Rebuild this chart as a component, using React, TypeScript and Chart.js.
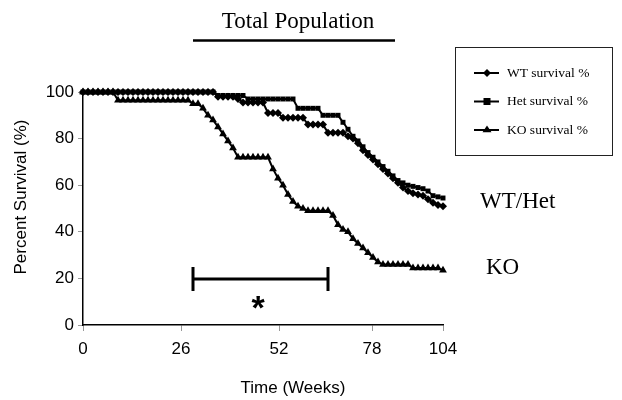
import React, { useEffect, useRef } from "react";
import { Chart, registerables } from "chart.js";
Chart.register(...registerables);

const chartTitle = "Total Population";
const xAxisTitle = "Time (Weeks)";
const yAxisTitle = "Percent Survival (%)";
const xTickLabels = ["0", "26", "52", "78", "104"];
const xTickPositions = [0, 98, 196, 289, 360];
const yTickStep = 20;

const seriesNames = ["WT survival %", "Het survival %", "KO survival %"];
const pointStyles = ["rectRot", "rect", "triangle"];
const pointSizes = [4, 3.5, 4.5];

// positions along the (category-like) time axis
const positions = [
  0, 5, 10, 15, 20, 25, 30, 35, 40, 45, 50, 55, 60, 65, 70, 75, 80, 85, 90, 95,
  100, 105, 110, 115, 120, 125, 130, 135, 140, 145, 150, 155, 160, 165, 170, 175, 180, 185, 190, 195,
  200, 205, 210, 215, 220, 225, 230, 235, 240, 245, 250, 255, 260, 265, 270, 275, 280, 285, 290, 295,
  300, 305, 310, 315, 320, 325, 330, 335, 340, 345, 350, 355, 360,
];

const wtSurvival = [
  100, 100, 100, 100, 100, 100, 100, 100, 100, 100, 100, 100, 100, 100, 100, 100, 100, 100, 100, 100,
  100, 100, 100, 100, 100, 100, 100, 98, 98, 98, 98, 97, 95.5, 95.5, 95.5, 95.5, 95.5, 91, 91, 91,
  89, 89, 89, 89, 89, 86, 86, 86, 86, 82.5, 82.5, 82.5, 82.5, 81, 80, 78, 75, 73, 71, 69,
  67, 65, 63, 61, 59, 57.5, 56.5, 56, 55.5, 54, 52.5, 51.5, 51,
];

const hetSurvival = [
  100, 100, 100, 100, 100, 100, 100, 100, 100, 100, 100, 100, 100, 100, 100, 100, 100, 100, 100, 100,
  100, 100, 100, 100, 100, 100, 100, 98.5, 98.5, 98.5, 98.5, 98.5, 98.5, 97, 97, 97, 97, 97, 97, 97,
  97, 97, 97, 93, 93, 93, 93, 93, 90, 90, 90, 90, 87, 84, 81, 79, 76.5, 74, 72, 70,
  68, 66, 64, 62, 61, 60, 59.5, 59, 58.5, 57.5, 55.5, 55, 54.5,
];

const koSurvival = [
  100, 100, 100, 100, 100, 100, 100, 96.5, 96.5, 96.5, 96.5, 96.5, 96.5, 96.5, 96.5, 96.5, 96.5, 96.5, 96.5, 96.5,
  96.5, 96.5, 95, 95, 93, 90, 88, 85, 82, 79, 76, 72, 72, 72, 72, 72, 72, 72, 67, 63,
  60, 56, 53, 51, 50, 49, 49, 49, 49, 49, 47, 43, 41, 40, 37, 35, 33, 31, 29, 27,
  26, 26, 26, 26, 26, 26, 24.5, 24.5, 24.5, 24.5, 24.5, 24.5, 23.5,
];

// annotations (in axis units)
const sigRange = [110, 245];
const sigLevel = 19.7;
const sigStarPos = 175;
const sigStarLevel = 10.7;
const groupLabels = ["WT/Het", "KO"];
const groupLabelPos = [397, 403];
const groupLabelLevel = [52.8, 24.5];

function drawMarker(ctx: CanvasRenderingContext2D, style: string, x: number, y: number, r: number) {
  ctx.beginPath();
  if (style === "rectRot") {
    ctx.moveTo(x, y - r); ctx.lineTo(x + r, y); ctx.lineTo(x, y + r); ctx.lineTo(x - r, y);
  } else if (style === "rect") {
    ctx.rect(x - r, y - r, 2 * r, 2 * r);
  } else {
    const h = r * 1.5;
    ctx.moveTo(x, y - h * 0.66); ctx.lineTo(x + r, y + h * 0.34); ctx.lineTo(x - r, y + h * 0.34);
  }
  ctx.closePath();
  ctx.fill();
}

const overlay = {
  id: "overlay",
  afterDraw(chart: any) {
    const ctx: CanvasRenderingContext2D = chart.ctx;
    const xs = chart.scales.x;
    const ys = chart.scales.y;
    ctx.save();
    ctx.fillStyle = "#000";
    ctx.strokeStyle = "#000";

    // chart title with underline
    ctx.font = '23px "Liberation Serif"';
    ctx.textAlign = "center";
    ctx.textBaseline = "alphabetic";
    ctx.fillText(chartTitle, 298, 28);
    ctx.lineWidth = 2.5;
    ctx.beginPath(); ctx.moveTo(193, 40.5); ctx.lineTo(395, 40.5); ctx.stroke();

    // axis titles
    ctx.font = '17px "Liberation Sans"';
    ctx.textBaseline = "middle";
    ctx.fillText(xAxisTitle, 293, 388);
    ctx.save();
    ctx.translate(21.5, 197);
    ctx.rotate(-Math.PI / 2);
    ctx.fillText(yAxisTitle, 0, 0);
    ctx.restore();

    // significance bracket
    const x1 = xs.getPixelForValue(sigRange[0]);
    const x2 = xs.getPixelForValue(sigRange[1]);
    const yb = ys.getPixelForValue(sigLevel);
    ctx.lineWidth = 3;
    ctx.beginPath();
    ctx.moveTo(x1, yb); ctx.lineTo(x2, yb);
    ctx.moveTo(x1, yb - 12); ctx.lineTo(x1, yb + 12);
    ctx.moveTo(x2, yb - 12); ctx.lineTo(x2, yb + 12);
    ctx.stroke();
    ctx.font = 'bold 34px "Liberation Sans"';
    ctx.textBaseline = "alphabetic";
    ctx.fillText("*", xs.getPixelForValue(sigStarPos), ys.getPixelForValue(sigStarLevel) + 19);

    // group labels
    ctx.font = '23px "Liberation Serif"';
    ctx.textAlign = "left";
    ctx.textBaseline = "middle";
    groupLabels.forEach((t, i) => {
      ctx.fillText(t, xs.getPixelForValue(groupLabelPos[i]), ys.getPixelForValue(groupLabelLevel[i]));
    });

    // legend box
    ctx.lineWidth = 1;
    ctx.strokeStyle = "#222";
    ctx.strokeRect(455.5, 47.5, 157, 108);
    const rows = [73, 101.5, 130];
    ctx.font = '13.5px "Liberation Serif"';
    seriesNames.forEach((name, i) => {
      const y = rows[i];
      ctx.strokeStyle = "#000";
      ctx.lineWidth = 2;
      ctx.beginPath(); ctx.moveTo(474, y); ctx.lineTo(499, y); ctx.stroke();
      drawMarker(ctx, pointStyles[i], 487, y, pointSizes[i]);
      ctx.fillText(name, 507, y);
    });
    ctx.restore();
  },
};

export default function App() {
  const ref = useRef<HTMLCanvasElement>(null);
  useEffect(() => {
    const canvas = ref.current;
    if (!canvas) return;
    const series = [wtSurvival, hetSurvival, koSurvival];
    const chart = new Chart(canvas, {
      type: "line",
      data: {
        datasets: series.map((vals, i) => ({
          label: seriesNames[i],
          data: positions.map((p, j) => ({ x: p, y: vals[j] })),
          borderColor: "#000",
          backgroundColor: "#000",
          borderWidth: 2,
          pointStyle: pointStyles[i] as any,
          pointRadius: pointSizes[i],
          pointBorderWidth: 0,
          tension: 0,
          clip: false as any,
        })),
      },
      options: {
        animation: false,
        responsive: false,
        devicePixelRatio: 1,
        layout: { padding: { left: 0, right: 179, top: 92, bottom: 0 } },
        plugins: { legend: { display: false }, tooltip: { enabled: false }, title: { display: false } },
        scales: {
          x: {
            type: "linear",
            min: 0,
            max: 360,
            afterFit: (s: any) => { s.height = 75; },
            afterBuildTicks: (s: any) => { s.ticks = xTickPositions.map((v) => ({ value: v })); },
            ticks: {
              autoSkip: false,
              maxRotation: 0,
              padding: 8,
              color: "#000",
              font: { family: "Liberation Sans", size: 17 },
              callback: (v: any) => xTickLabels[xTickPositions.indexOf(Number(v))] ?? "",
            },
            grid: { drawOnChartArea: false, drawTicks: true, tickLength: 6, color: "#999" },
            border: { color: "#000", width: 1.5 },
          },
          y: {
            min: 0,
            max: 100,
            afterFit: (s: any) => { s.width = 83; },
            ticks: {
              stepSize: yTickStep,
              padding: 4,
              color: "#000",
              font: { family: "Liberation Sans", size: 17 },
            },
            grid: { drawOnChartArea: false, drawTicks: true, tickLength: 5, color: "#999" },
            border: { color: "#000", width: 1.5 },
          },
        },
      },
      plugins: [overlay],
    });
    return () => chart.destroy();
  }, []);
  return (
    <div style={{ position: "absolute", left: 0, top: 0, width: 622, height: 400, background: "#fff" }}>
      <canvas ref={ref} width={622} height={400} />
    </div>
  );
}
